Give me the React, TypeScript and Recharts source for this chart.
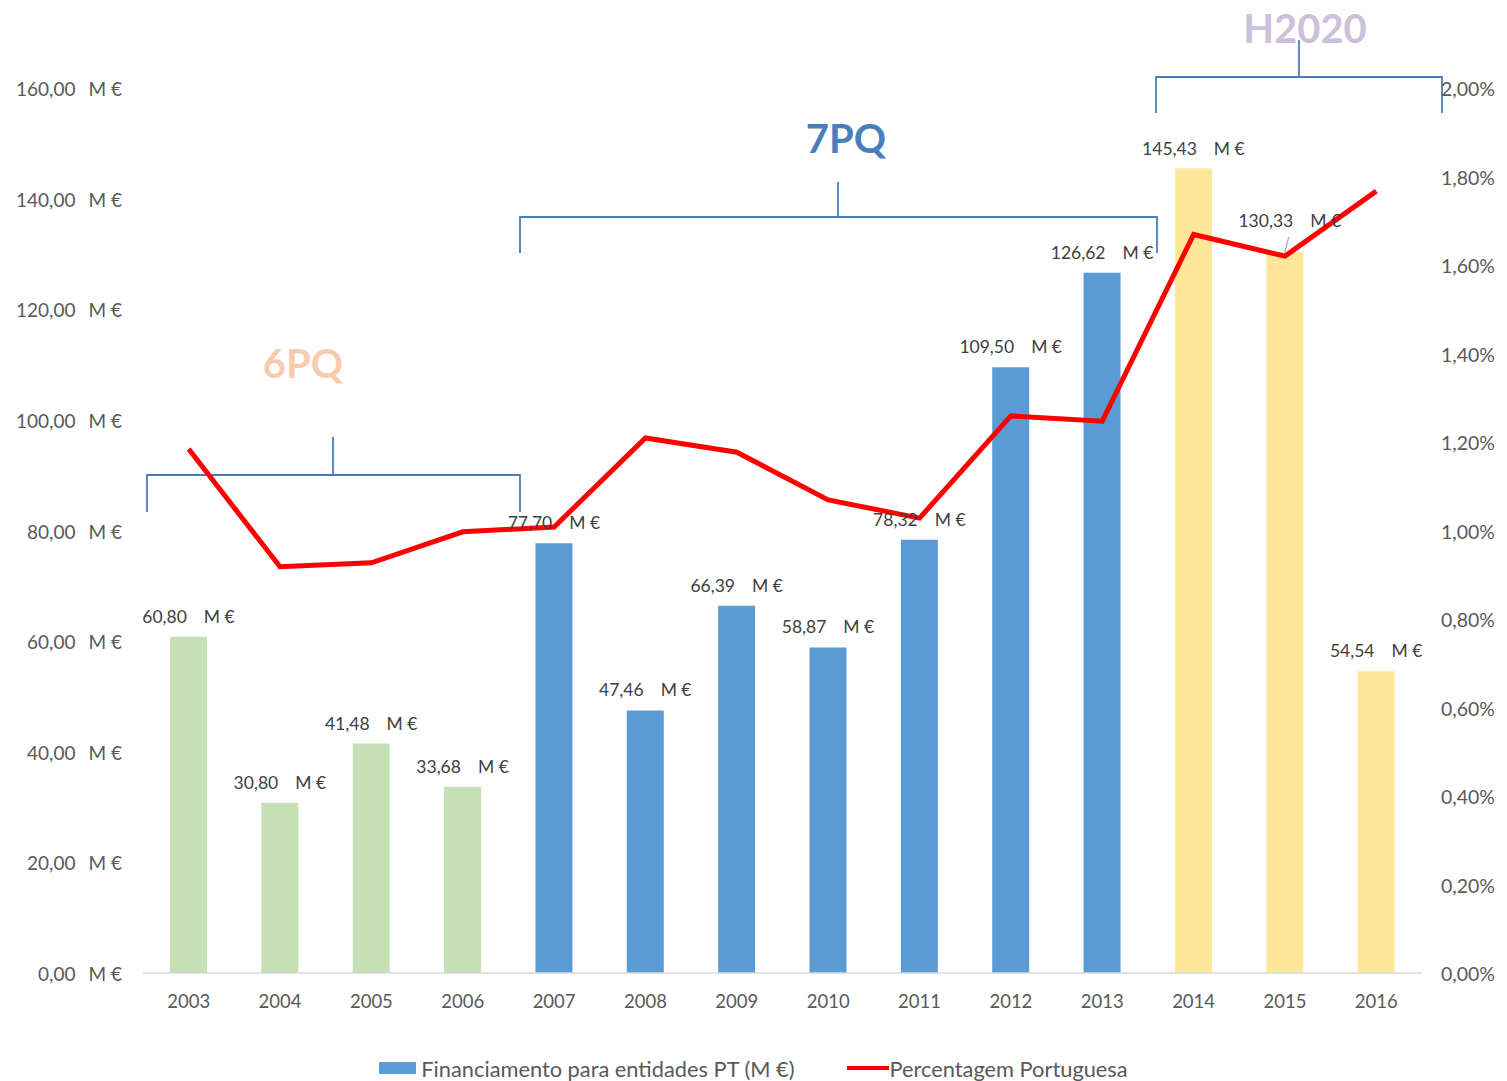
import React from "react";
import {
  ComposedChart,
  Bar,
  Line,
  XAxis,
  YAxis,
  Cell,
  LabelList,
  Legend,
  Customized,
} from "recharts";

const FONT = "Lato, 'Open Sans', sans-serif";

const years = [
  "2003", "2004", "2005", "2006", "2007", "2008", "2009",
  "2010", "2011", "2012", "2013", "2014", "2015", "2016",
];
const funding = [
  60.8, 30.8, 41.48, 33.68, 77.7, 47.46, 66.39,
  58.87, 78.32, 109.5, 126.62, 145.43, 130.33, 54.54,
];
const sharePct = [
  1.184, 0.918, 0.927, 0.997, 1.008, 1.209, 1.177,
  1.069, 1.028, 1.259, 1.247, 1.669, 1.62, 1.767,
];
const programme = [
  "6PQ", "6PQ", "6PQ", "6PQ",
  "7PQ", "7PQ", "7PQ", "7PQ", "7PQ", "7PQ", "7PQ",
  "H2020", "H2020", "H2020",
];
const moneyTicks = [0, 20, 40, 60, 80, 100, 120, 140, 160];
const pctTicks = [0, 0.2, 0.4, 0.6, 0.8, 1, 1.2, 1.4, 1.6, 1.8, 2];

const barColors: Record<string, string> = {
  "6PQ": "#c5e0b4",
  "7PQ": "#5b9bd5",
  H2020: "#ffe699",
};

const data = years.map((year, i) => ({
  year,
  funding: funding[i],
  share: sharePct[i],
  programme: programme[i],
}));

const comma = (v: number) => v.toFixed(2).replace(".", ",");

const MoneyTick = (props: any) => {
  const { x, y, payload } = props;
  return (
    <text x={x} y={y} dy={8} textAnchor="end" fill="#595959" fontSize={19} fontFamily={FONT}>
      <tspan>{comma(payload.value)}</tspan>
      <tspan dx={13}>M €</tspan>
    </text>
  );
};

const PctTick = (props: any) => {
  const { x, y, payload } = props;
  return (
    <text x={x} y={y} dy={8} textAnchor="start" fill="#595959" fontSize={19.5} fontFamily={FONT}>
      {comma(payload.value) + "%"}
    </text>
  );
};

const YearTick = (props: any) => {
  const { x, y, payload } = props;
  return (
    <text x={x} y={y} dy={35} textAnchor="middle" fill="#595959" fontSize={18.5} fontFamily={FONT}>
      {payload.value}
    </text>
  );
};

const BarValue = (props: any) => {
  const { x, y, width, value, index } = props;
  const cx = Number(x) + Number(width) / 2;
  const top = Number(y);
  // 2015 label was nudged up in the original, with a leader line
  const lifted = index === 12;
  return (
    <g>
      {lifted && (
        <line x1={cx + 4} y1={top - 15} x2={cx} y2={top} stroke="#a6a6a6" strokeWidth={1.2} />
      )}
      <text
        x={cx + (lifted ? 5 : 0)}
        y={top - (lifted ? 25 : 14)}
        textAnchor="middle"
        fill="#404040"
        fontSize={17.5}
        fontFamily={FONT}
      >
        <tspan>{comma(Number(value))}</tspan>
        <tspan dx={17}>M €</tspan>
      </text>
    </g>
  );
};

// programme brackets and titles drawn over the plot
const Brackets = () => {
  const blue = "#4a7ebb";
  return (
    <g fill="none" stroke={blue} strokeWidth={1.8}>
      <path d="M139,512 V475 H512 V512 M325,475 V437" />
      <path d="M512,253 V217 H1149 V253 M830,217 V182" />
      <path d="M1148,113 V77 H1434 V113 M1291,77 V40" />
      <text x={295} y={378} textAnchor="middle" stroke="none" fill="#f8cbad" fontSize={40} fontWeight={700} fontFamily={FONT}>
        6PQ
      </text>
      <text x={838} y={153} textAnchor="middle" stroke="none" fill="#4a7ebb" fontSize={40} fontWeight={700} fontFamily={FONT}>
        7PQ
      </text>
      <text x={1297} y={43} textAnchor="middle" stroke="none" fill="#ccc0da" fontSize={40} fontWeight={700} fontFamily={FONT}>
        H2020
      </text>
    </g>
  );
};

const LegendBox = () => (
  <div
    style={{
      display: "flex",
      justifyContent: "center",
      alignItems: "center",
      height: 26,
      fontFamily: FONT,
      fontSize: 21.8,
      color: "#595959",
      whiteSpace: "nowrap",
    }}
  >
    <span style={{ display: "inline-block", width: 37, height: 12, background: "#5b9bd5", marginRight: 5 }} />
    <span>Financiamento para entidades PT (M €)</span>
    <span style={{ display: "inline-block", width: 42, height: 4, background: "#ff0000", marginLeft: 52, marginRight: 1 }} />
    <span>Percentagem Portuguesa</span>
  </div>
);

export default function App() {
  return (
    <div style={{ marginTop: -8 }}>
      <ComposedChart
        width={1491}
        height={1081}
        data={data}
        margin={{ top: 88, right: 0, bottom: 0, left: 0 }}
        barSize={37}
      >
        <Customized component={Brackets} />
        <XAxis
          dataKey="year"
          axisLine={{ stroke: "#d9d9d9", strokeWidth: 1.5 }}
          tickLine={false}
          tickSize={0}
          tickMargin={0}
          height={82}
          tick={<YearTick />}
          interval={0}
        />
        <YAxis
          yAxisId="money"
          domain={[0, 160]}
          ticks={moneyTicks}
          width={135}
          axisLine={false}
          tickLine={false}
          tickSize={6}
          tickMargin={15}
          tick={<MoneyTick />}
          interval={0}
        />
        <YAxis
          yAxisId="pct"
          orientation="right"
          domain={[0, 2]}
          ticks={pctTicks}
          width={77}
          axisLine={false}
          tickLine={false}
          tickSize={6}
          tickMargin={13}
          tick={<PctTick />}
          interval={0}
        />
        <Legend verticalAlign="bottom" content={<LegendBox />} />
        <Bar
          yAxisId="money"
          dataKey="funding"
          name="Financiamento para entidades PT (M €)"
          fill="#5b9bd5"
          isAnimationActive={false}
        >
          {data.map((d) => (
            <Cell key={d.year} fill={barColors[d.programme]} />
          ))}
          <LabelList dataKey="funding" content={<BarValue />} />
        </Bar>
        <Line
          yAxisId="pct"
          dataKey="share"
          name="Percentagem Portuguesa"
          type="linear"
          stroke="#ff0000"
          strokeWidth={5}
          dot={false}
          activeDot={false}
          isAnimationActive={false}
        />
      </ComposedChart>
    </div>
  );
}
